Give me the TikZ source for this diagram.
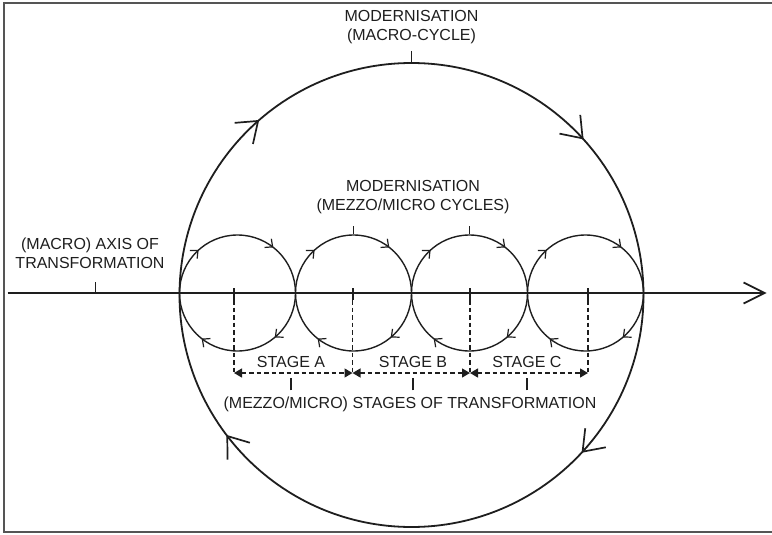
\documentclass[tikz,border=0pt]{standalone}
\usepackage{fontspec}
\setmainfont{Liberation Sans}
\usetikzlibrary{arrows.meta,decorations.markings}
\definecolor{ink}{HTML}{1E1E1E}
\definecolor{framec}{HTML}{555555}
\tikzset{
  bigarr/.tip={Straight Barb[length=19pt,width=28pt,line width=1.7pt]},
  smallarr/.tip={Straight Barb[length=6pt,width=11pt,line width=1.2pt]},
  lbl/.style={font=\fontsize{16}{19}\selectfont, text=ink, align=center, inner sep=0pt},
  bigcirc/.style={circle, draw=ink, line width=1.8pt, minimum size=464pt, inner sep=0pt,
    postaction={decorate, decoration={markings,
      mark=at position 0.117 with {\arrowreversed{bigarr}},
      mark=at position 0.364 with {\arrowreversed{bigarr}},
      mark=at position 0.603 with {\arrowreversed{bigarr}},
      mark=at position 0.881 with {\arrowreversed{bigarr}}}}},
  smallcirc/.style={circle, draw=ink, line width=1.4pt, minimum size=116pt, inner sep=0pt,
    postaction={decorate, decoration={markings,
      mark=at position 0.144 with {\arrowreversed{smallarr}},
      mark=at position 0.367 with {\arrowreversed{smallarr}},
      mark=at position 0.644 with {\arrowreversed{smallarr}},
      mark=at position 0.861 with {\arrowreversed{smallarr}}}}},
  tick/.style={draw=ink, line width=1.3pt},
  ctick/.style={draw=ink, line width=2pt},
  vdash/.style={draw=ink, line width=1.3pt, dash pattern=on 4.5pt off 3pt},
  stagearr/.style={draw=ink, line width=1.3pt, dash pattern=on 4.5pt off 3pt,
    {Triangle[length=8pt,width=9pt]}-{Triangle[length=8pt,width=9pt]}},
}
\begin{document}
\begin{tikzpicture}[x=1pt,y=1pt]
\useasboundingbox (0,0) rectangle (772,-535);
% frame
\draw[framec, line width=2pt] (790,-3.2) -- (3.7,-3.2) -- (3.7,-532) -- (790,-532);

% circles
\node[bigcirc] (big) at (411.5,-295) {};
\node[smallcirc] (c1) at (237.5,-293) {};
\node[smallcirc] (c2) at (353.5,-293) {};
\node[smallcirc] (c3) at (469.5,-293) {};
\node[smallcirc] (c4) at (585.5,-293) {};

% axis
\coordinate (axs) at (7.5,-293);
\coordinate (axe) at (766.5,-293);
\draw[ink, line width=1.8pt, -{Straight Barb[length=21pt,width=21pt,line width=1.7pt]}] (axs) -- (axe);

% labels
\node[lbl] (topl) at (411.5,-27) {MODERNISATION\\(MACRO-CYCLE)};
\node[lbl] (midl) at (413,-197) {MODERNISATION\\(MEZZO/MICRO CYCLES)};
\node[lbl] (axl) at (90,-253) {(MACRO) AXIS OF\\TRANSFORMATION};
\node[lbl] (sa) at (291,-362) {STAGE A};
\node[lbl] (sb) at (413,-362) {STAGE B};
\node[lbl] (sc) at (527,-362) {STAGE C};
\node[lbl] (stl) at (410,-404) {(MEZZO/MICRO) STAGES OF TRANSFORMATION};

% label ticks
\draw[tick] ([yshift=-7pt]topl.south -| big.north) -- (big.north);
\draw[tick] (c2.north) -- ++(0,8);
\draw[tick] (c3.north) -- ++(0,8);
\coordinate (axt) at (95.7,-293);
\draw[tick] (axt) -- ++(0,11);

% stage positions
\coordinate (p1) at (234,-373);
\coordinate (p2) at (352.5,-373);
\coordinate (p3) at (470,-373);
\coordinate (p4) at (588,-373);
\foreach \p in {p1,p2,p3,p4}{
  \draw[ctick] ([yshift=85pt]\p) -- ([yshift=73pt]\p);
  \draw[vdash] ([yshift=73pt]\p) -- (\p);
}
\draw[stagearr] (p1) -- (p2);
\draw[stagearr] (p2) -- (p3);
\draw[stagearr] (p3) -- (p4);

\draw[tick] (stl.north -| sa) ++(0,6) -- ++(0,12);
\draw[tick] (stl.north -| sb) ++(0,6) -- ++(0,12);
\draw[tick] (stl.north -| sc) ++(0,6) -- ++(0,12);
\end{tikzpicture}
\end{document}
